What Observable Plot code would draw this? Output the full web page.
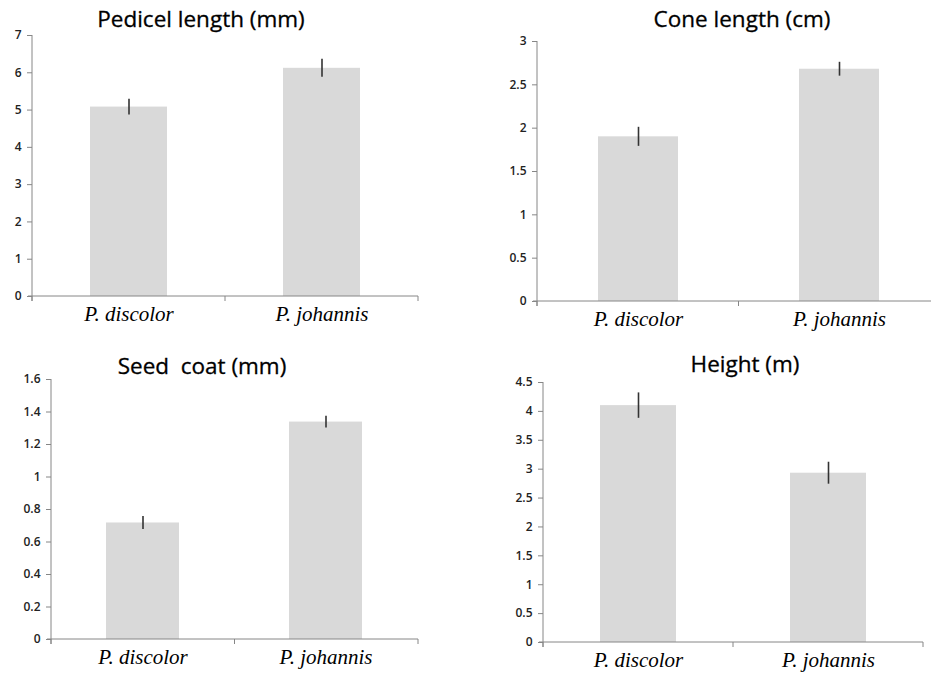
<!DOCTYPE html>
<html>
<head>
<meta charset="utf-8">
<script src="https://cdn.jsdelivr.net/npm/d3@7"></script>
<script src="https://cdn.jsdelivr.net/npm/@observablehq/plot@0.6"></script>
<style>
  html, body { margin: 0; padding: 0; background: #fff; overflow: hidden; }
  #wrap { position: relative; width: 931px; height: 675px; overflow: hidden; background: #fff; }
  #wrap svg { position: absolute; background: transparent; }
  .ttl { position: absolute; font-family: "Open Sans", sans-serif; font-size: 22.5px; line-height: 22px; color: #000; white-space: pre; transform: translateX(-50%); -webkit-text-stroke: 0.3px #000; }
</style>
</head>
<body>
<div id="wrap"></div>
<script>
// ---- data ----
const species = ["P. discolor", "P. johannis"];

const pedicelLength = [5.08, 6.12];
const pedicelErr = [0.21, 0.24];
const pedicelTicks = [0, 1, 2, 3, 4, 5, 6, 7];

const coneLength = [1.9, 2.68];
const coneErr = [0.11, 0.08];
const coneTicks = [0, 0.5, 1, 1.5, 2, 2.5, 3];

const seedCoat = [0.717, 1.338];
const seedErr = [0.04, 0.036];
const seedTicks = [0, 0.2, 0.4, 0.6, 0.8, 1, 1.2, 1.4, 1.6];

const heightM = [4.1, 2.93];
const heightErr = [0.22, 0.19];
const heightTicks = [0, 0.5, 1, 1.5, 2, 2.5, 3, 3.5, 4, 4.5];

const titles = ["Pedicel length (mm)", "Cone length (cm)", "Seed  coat (mm)", "Height (m)"];

// ---- layout per panel ----
const panels = [
  {title: titles[0], values: pedicelLength, err: pedicelErr, ticks: pedicelTicks,
   left: 0, top: 0, width: 466, height: 338, mL: 32, mR: 48, mT: 35, mB: 42, tx: 201, ty: 8},
  {title: titles[1], values: coneLength, err: coneErr, ticks: coneTicks,
   left: 466, top: 0, width: 474, height: 338, mL: 71, mR: 0, mT: 41, mB: 37, tx: 742, ty: 8},
  {title: titles[2], values: seedCoat, err: seedErr, ticks: seedTicks,
   left: 0, top: 338, width: 466, height: 337, mL: 51, mR: 48, mT: 41, mB: 36, tx: 202, ty: 355},
  {title: titles[3], values: heightM, err: heightErr, ticks: heightTicks,
   left: 466, top: 338, width: 465, height: 337, mL: 77, mR: 8, mT: 44, mB: 33, tx: 745, ty: 353}
];

const wrap = document.getElementById("wrap");

// axis lines + category boundary ticks, derived from the plot frame
function excelAxes(index, scales, values, dims) {
  const g = d3.create("svg:g").attr("stroke", "#868686").attr("stroke-width", 1).attr("fill", "none");
  const x0 = dims.marginLeft, x1 = dims.width - dims.marginRight;
  const y0 = dims.height - dims.marginBottom, yTop = dims.marginTop;
  g.append("line").attr("x1", x0).attr("x2", x0).attr("y1", yTop).attr("y2", y0 + 5);
  g.append("line").attr("x1", x0 - 4).attr("x2", x1).attr("y1", y0).attr("y2", y0);
  [x0, (x0 + x1) / 2, x1].forEach(x => {
    g.append("line").attr("x1", x).attr("x2", x).attr("y1", y0).attr("y2", y0 + 5);
  });
  return g.node();
}

panels.forEach(p => {
  const rows = species.map((s, i) => ({species: s, value: p.values[i], err: p.err[i]}));
  const chart = Plot.plot({
    width: p.width,
    height: p.height,
    marginLeft: p.mL,
    marginRight: p.mR,
    marginTop: p.mT,
    marginBottom: p.mB,
    style: {background: "transparent", overflow: "visible"},
    x: {domain: species, paddingInner: 0.6, paddingOuter: 0.3, axis: null, label: null},
    y: {domain: [p.ticks[0], p.ticks[p.ticks.length - 1]], axis: null, label: null},
    marks: [
      Plot.barY(rows, {x: "species", y: "value", fill: "#d9d9d9"}),
      Plot.ruleX(rows, {x: "species", y1: d => d.value - d.err, y2: d => d.value + d.err, stroke: "#333", strokeWidth: 1.6}),
      Plot.axisY({ticks: p.ticks, tickFormat: d => String(d), tickSize: 5, tickPadding: 6, label: null,
                  stroke: "#868686", fill: "#222", fontSize: 12, fontWeight: 600,
                  fontFamily: "'Open Sans', sans-serif"}),
      Plot.axisX({tickSize: 0, tickPadding: 10, fontSize: 21, fontStyle: "italic", label: null,
                  fontFamily: "'Liberation Serif', 'Times New Roman', serif", fill: "#000"}),
      excelAxes
    ]
  });
  chart.style.left = p.left + "px";
  chart.style.top = p.top + "px";
  wrap.appendChild(chart);

  const t = document.createElement("div");
  t.className = "ttl";
  t.textContent = p.title;
  t.style.left = p.tx + "px";
  t.style.top = p.ty + "px";
  wrap.appendChild(t);
});
</script>
</body>
</html>
